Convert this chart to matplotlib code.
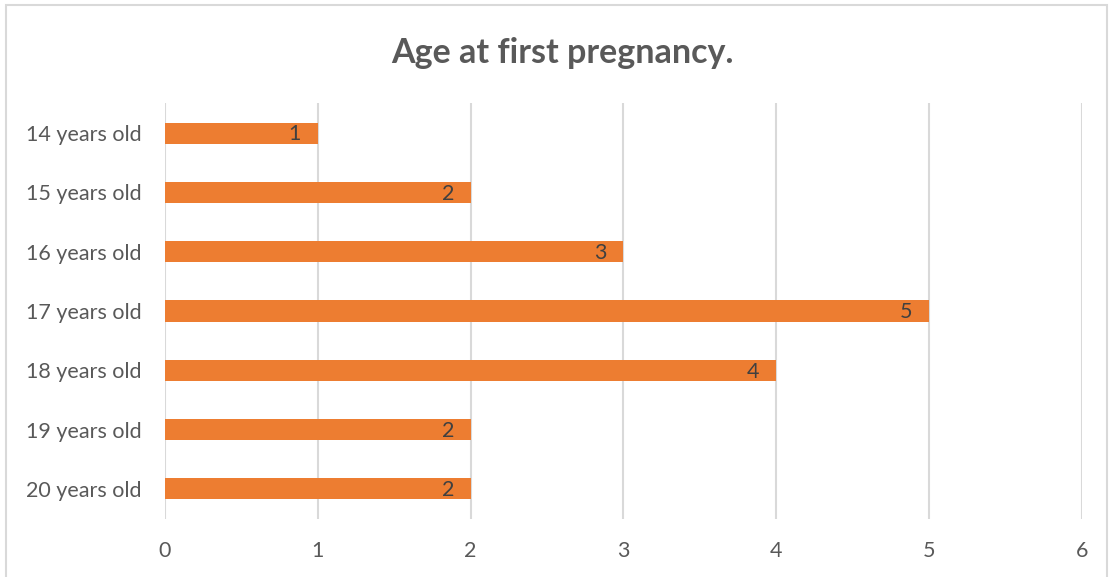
import matplotlib
matplotlib.use("Agg")
import matplotlib.pyplot as plt
from matplotlib.patches import Rectangle

categories = ["14 years old", "15 years old", "16 years old", "17 years old",
              "18 years old", "19 years old", "20 years old"]
counts = [1, 2, 3, 5, 4, 2, 2]
x_ticks = [0, 1, 2, 3, 4, 5, 6]

plt.rcParams["font.family"] = ["Lato", "DejaVu Sans"]

fig = plt.figure(figsize=(11.11, 5.77), dpi=100)
ax = fig.add_axes([0.1485, 0.1012, 0.8254, 0.7196])

ypos = list(range(len(categories)))
ax.barh(ypos, counts, height=0.355, color="#ED7D31", zorder=3)
ax.set_ylim(len(categories) - 0.5, -0.5)
ax.set_xlim(0, 6)
ax.set_xticks(x_ticks)
ax.set_yticks(ypos)
ax.set_yticklabels(categories)
ax.tick_params(axis="both", length=0, labelsize=15.5, labelcolor="#595959")
ax.tick_params(axis="x", pad=16)
ax.tick_params(axis="y", pad=17)
for s in ax.spines.values():
    s.set_visible(False)
ax.grid(axis="x", color="#D9D9D9", linewidth=1.5, zorder=0)

for y, v in zip(ypos, counts):
    ax.annotate(str(v), xy=(v, y), xytext=(-12, -1), textcoords="offset points",
                ha="right", va="center", fontsize=15.5, color="#404040", zorder=4)

fig.text(0.506, 0.908, "Age at first pregnancy.", ha="center", va="center",
         fontsize=24.5, fontweight="bold", color="#595959")

fig.patches.append(Rectangle((6 / 1111, -0.01), 1101 / 1111, 1 - 5 / 577 + 0.01,
                             transform=fig.transFigure, fill=False,
                             edgecolor="#D9D9D9", linewidth=1.5))

fig.savefig("out.png", dpi=100)
